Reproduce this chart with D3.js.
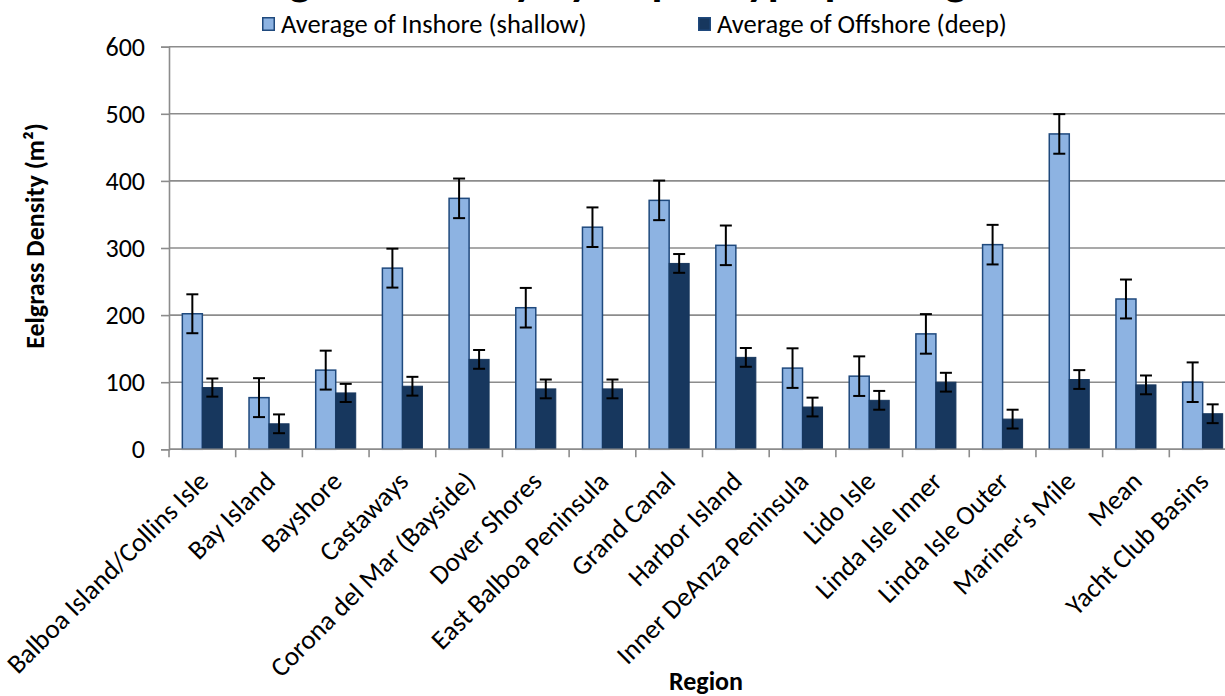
<!DOCTYPE html>
<html>
<head>
<meta charset="utf-8">
<script src="https://cdn.jsdelivr.net/npm/d3@7"></script>
<style>
  html, body { margin: 0; padding: 0; background: #ffffff; }
  svg { display: block; }
  text { font-family: Carlito, Calibri, Lato, sans-serif; fill: #000; }
</style>
</head>
<body>
<svg id="chart" width="1225" height="696"></svg>
<script>
const titleText = "Eelgrass Density by Depth Type per Region";
const seriesNames = ["Average of Inshore (shallow)", "Average of Offshore (deep)"];
const categories = [
  "Balboa Island/Collins Isle", "Bay Island", "Bayshore", "Castaways",
  "Corona del Mar (Bayside)", "Dover Shores", "East Balboa Peninsula", "Grand Canal",
  "Harbor Island", "Inner DeAnza Peninsula", "Lido Isle", "Linda Isle Inner",
  "Linda Isle Outer", "Mariner's Mile", "Mean", "Yacht Club Basins"
];
const inshore  = [202, 77, 118, 270, 374, 211, 331, 371, 304, 121, 109, 172, 305, 470, 224, 100];
const offshore = [92, 38, 84, 94, 134, 90, 90, 277, 137, 63, 73, 100, 45, 104, 96, 53];
const inshoreErr  = [29, 29, 29, 29, 29.5, 29.5, 29.5, 29.5, 29.5, 29.5, 29.5, 29.5, 29.5, 29.5, 29, 29.5];
const offshoreErr = [13.5, 14, 13.5, 14, 14, 14, 14, 14, 14, 14, 14, 14, 14, 14, 14, 14];
const yTicks = [0, 100, 200, 300, 400, 500, 600];
const yTitle = "Eelgrass Density (m²)";
const xTitle = "Region";

const colors = { inshore: "#8DB3E2", offshore: "#17375E", border: "#1F497D", grid: "#8C8C8C" };

const svg = d3.select("#chart");
const plot = { left: 169, right: 1236, top: 46.7, bottom: 449.3 };

const x = d3.scaleBand().domain(categories).range([plot.left, plot.right]).padding(0);
const bw = x.bandwidth();
const xs = d3.scaleBand().domain(["in", "off"]).range([bw * 0.2, bw * 0.8]).padding(0);
const y = d3.scaleLinear().domain([0, 600]).range([plot.bottom, plot.top]);

// gridlines
svg.append("g").selectAll("line").data(yTicks).join("line")
  .attr("x1", plot.left).attr("x2", 1225)
  .attr("y1", d => y(d)).attr("y2", d => y(d))
  .attr("stroke", colors.grid).attr("stroke-width", 1.6);

// y axis
const yAxis = svg.append("g").attr("transform", `translate(${plot.left},0)`)
  .call(d3.axisLeft(y).tickValues(yTicks).tickSize(8).tickPadding(16).tickFormat(d3.format("d")));
yAxis.select(".domain").attr("stroke", colors.grid).attr("stroke-width", 1.6);
yAxis.selectAll(".tick line").attr("stroke", colors.grid).attr("stroke-width", 1.6);
yAxis.selectAll(".tick text").attr("font-size", 26).attr("font-family", "Carlito, Calibri, Lato, sans-serif").attr("fill", "#000");

// x axis ticks at band boundaries
const bounds = categories.map(c => x(c)).concat([x.range()[1]]);
svg.append("g").selectAll("line").data(bounds).join("line")
  .attr("x1", d => d).attr("x2", d => d)
  .attr("y1", plot.bottom).attr("y2", plot.bottom + 8)
  .attr("stroke", colors.grid).attr("stroke-width", 1.6);

// bars
const groups = svg.append("g").selectAll("g").data(categories).join("g")
  .attr("transform", d => `translate(${x(d)},0)`);

groups.append("rect")
  .attr("x", xs("in")).attr("width", xs.bandwidth())
  .attr("y", (d, i) => y(inshore[i])).attr("height", (d, i) => y(0) - y(inshore[i]))
  .attr("fill", colors.inshore).attr("stroke", colors.border).attr("stroke-width", 1.5);

groups.append("rect")
  .attr("x", xs("off")).attr("width", xs.bandwidth())
  .attr("y", (d, i) => y(offshore[i])).attr("height", (d, i) => y(0) - y(offshore[i]))
  .attr("fill", colors.offshore).attr("stroke", colors.offshore).attr("stroke-width", 1);

// x axis baseline on top of bars
svg.append("line").attr("x1", plot.left).attr("x2", 1225)
  .attr("y1", plot.bottom).attr("y2", plot.bottom)
  .attr("stroke", colors.grid).attr("stroke-width", 1.6);

// error bars
function errBar(g, key, vals, errs) {
  const cx = xs(key) + xs.bandwidth() / 2;
  const cap = 6;
  g.append("line").attr("x1", cx).attr("x2", cx)
    .attr("y1", (d, i) => y(vals[i] + errs[i])).attr("y2", (d, i) => y(vals[i] - errs[i]))
    .attr("stroke", "#000").attr("stroke-width", 2);
  g.append("line").attr("x1", cx - cap).attr("x2", cx + cap)
    .attr("y1", (d, i) => y(vals[i] + errs[i])).attr("y2", (d, i) => y(vals[i] + errs[i]))
    .attr("stroke", "#000").attr("stroke-width", 2);
  g.append("line").attr("x1", cx - cap).attr("x2", cx + cap)
    .attr("y1", (d, i) => y(vals[i] - errs[i])).attr("y2", (d, i) => y(vals[i] - errs[i]))
    .attr("stroke", "#000").attr("stroke-width", 2);
}
errBar(groups, "in", inshore, inshoreErr);
errBar(groups, "off", offshore, offshoreErr);

// x category labels
svg.append("g").selectAll("text").data(categories).join("text")
  .attr("transform", d => `translate(${x(d) + bw / 2 + 1},${plot.bottom + 27}) rotate(-45)`)
  .attr("text-anchor", "end").attr("dy", "0.35em")
  .attr("font-size", 27)
  .text(d => d);

// axis titles
svg.append("text")
  .attr("transform", `translate(44,236) rotate(-90)`)
  .attr("text-anchor", "middle").attr("font-size", 26).attr("font-weight", "bold")
  .text(yTitle);
svg.append("text")
  .attr("x", 706).attr("y", 690)
  .attr("text-anchor", "middle").attr("font-size", 26).attr("font-weight", "bold")
  .text(xTitle);

// title (clipped at top, as in reference)
svg.append("text")
  .attr("x", 630).attr("y", -5)
  .attr("text-anchor", "middle").attr("font-size", 45).attr("font-weight", "bold")
  .text(titleText);

// legend
const legendX = [262, 698];
const legendFill = [colors.inshore, colors.offshore];
const lg = svg.append("g").selectAll("g").data(seriesNames).join("g")
  .attr("transform", (d, i) => `translate(${legendX[i]},17)`);
lg.append("rect").attr("x", 0.75).attr("y", 0.75).attr("width", 11.5).attr("height", 12.5)
  .attr("fill", (d, i) => legendFill[i]).attr("stroke", colors.border).attr("stroke-width", 1.5);
lg.append("text").attr("x", 19).attr("y", 7).attr("dy", "0.35em")
  .attr("font-size", 26.5).text(d => d);
</script>
</body>
</html>
